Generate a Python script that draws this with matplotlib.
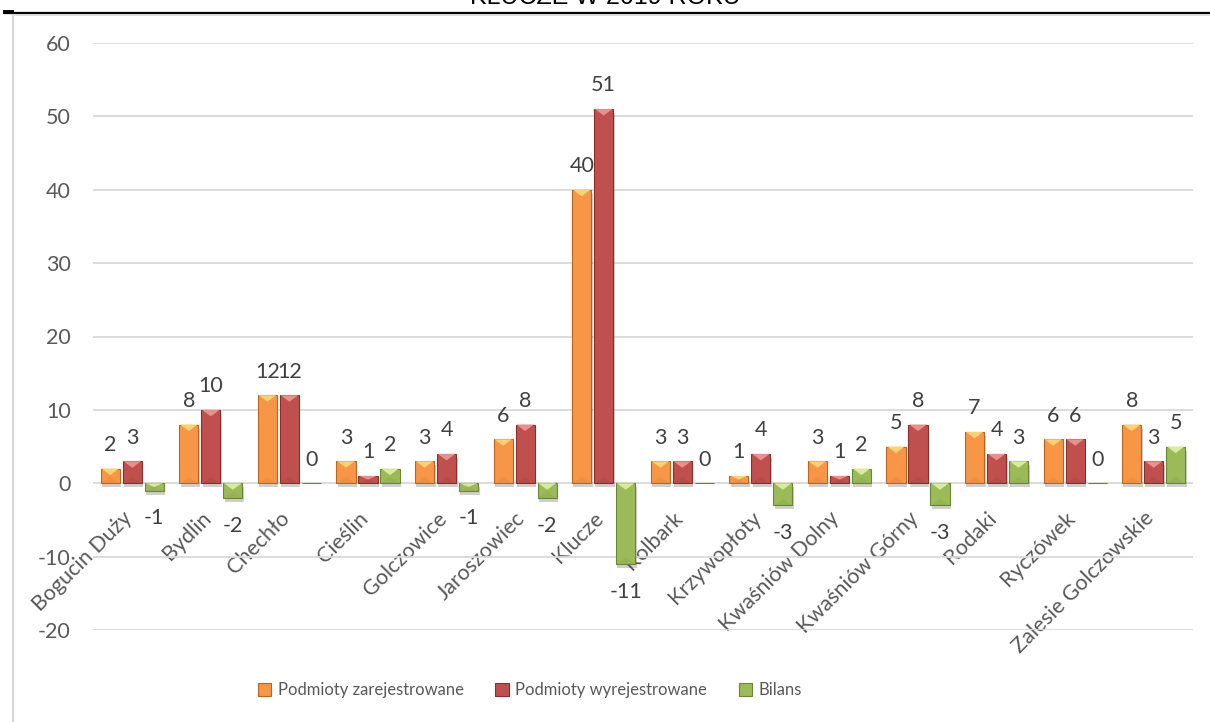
import matplotlib
matplotlib.use("Agg")
import matplotlib.pyplot as plt
import matplotlib.transforms as mtrans
import numpy as np
from matplotlib.patches import Polygon, Rectangle
from matplotlib.lines import Line2D
import matplotlib.patheffects as pe

categories = ["Bogucin Duży", "Bydlin", "Chechło", "Cieślin", "Golczowice",
              "Jaroszowiec", "Klucze", "Kolbark", "Krzywopłoty", "Kwaśniów Dolny",
              "Kwaśniów Górny", "Rodaki", "Ryczówek", "Zalesie Golczowskie"]
zarejestrowane = [2, 8, 12, 3, 3, 6, 40, 3, 1, 3, 5, 7, 6, 8]
wyrejestrowane = [3, 10, 12, 1, 4, 8, 51, 3, 4, 1, 8, 4, 6, 3]
bilans = [-1, -2, 0, 2, -1, -2, -11, 0, -3, 2, -3, 3, 0, 5]
series_names = ["Podmioty zarejestrowane", "Podmioty wyrejestrowane", "Bilans"]
yticks = [-20, -10, 0, 10, 20, 30, 40, 50, 60]
title = "KLUCZE W 2019 ROKU"

face = ["#F79646", "#C0504D", "#9BBB59"]
light = ["#FBD273", "#EA8F8F", "#D9EC9C"]
dark = ["#C46A1E", "#8E2F2D", "#6E8C35"]
edge = ["#B8661F", "#8A2E2C", "#6A8632"]

W, H = 1210, 722
fig = plt.figure(figsize=(W / 100, H / 100), dpi=100)
FONT = ["Lato", "DejaVu Sans"]
plt.rcParams["font.family"] = FONT

left, right = 93 / W, 1193 / W
top, bottom = 1 - 43 / H, 1 - 630 / H
ax = fig.add_axes([left, bottom, right - left, top - bottom])
ax.set_xlim(-0.5, len(categories) - 0.5)
ax.set_ylim(-20, 60)
ax.set_axisbelow(True)

ax_h_px = (top - bottom) * H
upp = 80 / ax_h_px  # data units per pixel (y)
ax_w_px = (right - left) * W
xpp = len(categories) / ax_w_px

x = np.arange(len(categories))
bw = 0.245
offs = [-0.28, 0.0, 0.28]
series = [zarejestrowane, wyrejestrowane, bilans]

for si, vals in enumerate(series):
    xs = x + offs[si]
    bars = ax.bar(xs, vals, width=bw, color=face[si], edgecolor=edge[si],
                  linewidth=0.8, zorder=3)
    for b in bars:
        b.set_path_effects([pe.SimplePatchShadow(offset=(1, -3), shadow_rgbFace="#404040", alpha=0.25),
                            pe.Normal()])
    for xi, v in zip(xs, vals):
        if v == 0:
            continue
        y_top = max(v, 0)
        y_bot = min(v, 0)
        hpx = abs(v) / upp
        tri = min(6.5, hpx / 2) * upp
        x0, x1 = xi - bw / 2 + 0.8 * xpp, xi + bw / 2 - 0.8 * xpp
        ax.add_patch(Polygon([[x0, y_top], [x1, y_top], [xi, y_top - tri]],
                             closed=True, facecolor=light[si], edgecolor="none", zorder=4))
        ax.add_patch(Polygon([[x0, y_bot], [x1, y_bot], [xi, y_bot + tri]],
                             closed=True, facecolor=dark[si], edgecolor="none", alpha=0.15, zorder=4))
    for xi, v in zip(xs, vals):
        if v >= 0:
            ax.annotate(str(v), (xi, v), xytext=(0, 17), textcoords="offset points",
                        ha="center", va="center", fontsize=15.5, color="#404040", zorder=6)
        else:
            ax.annotate(str(v), (xi, v), xytext=(0, -20), textcoords="offset points",
                        ha="center", va="center", fontsize=15.5, color="#404040", zorder=6)

ax.set_yticks(yticks)
ax.set_yticklabels([str(t) for t in yticks])
ax.grid(axis="y", color="#D9D9D9", linewidth=1.3)
ax.grid(axis="x", visible=False)
for s in ["top", "right", "left"]:
    ax.spines[s].set_visible(False)
ax.spines["bottom"].set_position(("data", 0))
ax.spines["bottom"].set_visible(False)
ax.tick_params(axis="y", length=0, pad=16, labelsize=15.5, labelcolor="#595959")
ax.tick_params(axis="x", length=0, pad=23, labelsize=15.5, labelcolor="#595959")
ax.set_xticks(x)
ax.set_xticklabels(categories, rotation=45, ha="right", va="center", rotation_mode="anchor")
shift = mtrans.ScaledTranslation(-3 / 100, 0, fig.dpi_scale_trans)
for lab in ax.get_xticklabels():
    lab.set_transform(lab.get_transform() + shift)

# legend
handles = [Rectangle((0, 0), 1, 1, facecolor=face[i], edgecolor=edge[i], linewidth=0.8)
           for i in range(3)]
fig.legend(handles, series_names, loc="center", bbox_to_anchor=(530 / W, 1 - 690 / H),
           ncol=3, frameon=False, fontsize=12, handlelength=0.8, handleheight=0.8,
           handletextpad=0.4, columnspacing=1.9, labelcolor="#595959")

# title (cut off at top, as in the source)
fig.text(0.5, 1 - 4.5 / H, title, ha="center", va="baseline", fontsize=18,
         family=["Liberation Sans", "DejaVu Sans"], color="#000000")

# frame lines
fig.add_artist(Line2D([5 / W, 1.0], [1 - 12.5 / H, 1 - 12.5 / H], color="black", linewidth=1.6))
fig.add_artist(Line2D([5 / W, 12 / W], [1 - 12 / H, 1 - 12 / H], color="black", linewidth=2.8))
fig.add_artist(Line2D([13 / W, 1.0], [1 - 14.5 / H, 1 - 14.5 / H], color="#D9D9D9", linewidth=1.2))
fig.add_artist(Line2D([13 / W, 13 / W], [0, 1 - 14.5 / H], color="#D9D9D9", linewidth=1.5))

fig.savefig("out.png", dpi=100)
